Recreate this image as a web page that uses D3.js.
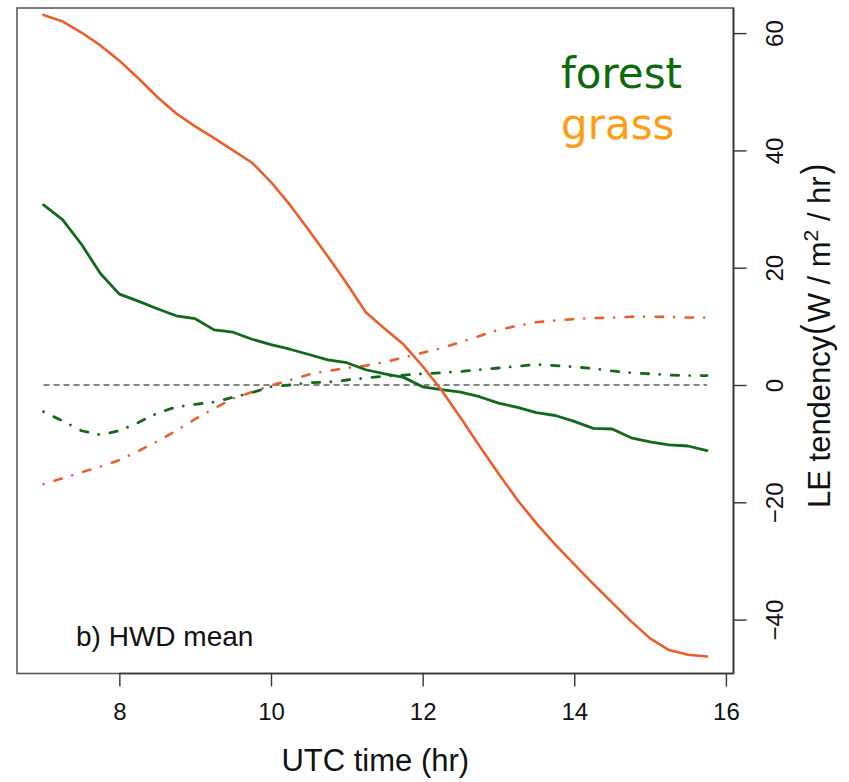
<!DOCTYPE html>
<html>
<head>
<meta charset="utf-8">
<script src="https://cdn.jsdelivr.net/npm/d3@7"></script>
<style>
  html, body { margin: 0; padding: 0; background: #fff; }
  svg { display: block; }
  text { font-family: "Liberation Sans", Arial, Helvetica, sans-serif; }
</style>
</head>
<body>
<svg id="chart" width="849" height="782"></svg>
<script>
// UTC hour of each sample (every 15 minutes)
const hours = [7, 7.25, 7.5, 7.75, 8, 8.25, 8.5, 8.75, 9, 9.25, 9.5, 9.75,
  10, 10.25, 10.5, 10.75, 11, 11.25, 11.5, 11.75, 12, 12.25, 12.5, 12.75,
  13, 13.25, 13.5, 13.75, 14, 14.25, 14.5, 14.75, 15, 15.25, 15.5, 15.75];

// grass, solid line
const grassSolid = [63.1, 62.0, 60.1, 57.9, 55.3, 52.3, 49.1, 46.3, 44.1, 42.1, 40.0, 37.9,
  34.6, 30.7, 26.4, 21.9, 17.3, 12.4, 9.6, 6.9, 3.2, -0.9, -5.6, -10.4,
  -15.1, -19.6, -23.6, -27.2, -30.6, -33.9, -37.1, -40.3, -43.2, -45.2, -46.0, -46.3];

// forest, solid line
const forestSolid = [30.7, 28.2, 24.0, 19.0, 15.5, 14.3, 13.0, 11.8, 11.3, 9.4, 9.0, 7.8,
  6.9, 6.1, 5.2, 4.3, 3.8, 2.6, 1.9, 1.3, -0.3, -0.8, -1.2, -2.0,
  -3.1, -3.8, -4.7, -5.2, -6.2, -7.4, -7.5, -9.0, -9.7, -10.2, -10.4, -11.2];

// grass, dash-dot line
const grassDashDot = [-16.9, -15.9, -14.9, -13.9, -12.8, -11.25, -9.6, -7.8, -5.8, -4.0, -2.3, -1.2,
  -0.1, 0.85, 1.8, 2.4, 2.9, 3.3, 3.9, 4.7, 5.5, 6.3, 7.3, 8.35,
  9.4, 10.1, 10.7, 11.0, 11.25, 11.4, 11.5, 11.65, 11.65, 11.6, 11.5, 11.5];

// forest, dash-dot line
const forestDashDot = [-4.55, -6.1, -7.8, -8.5, -7.8, -6.4, -4.8, -3.75, -3.3, -2.9, -2.1, -1.3,
  -0.3, 0.0, 0.4, 0.5, 0.85, 1.2, 1.5, 1.7, 1.9, 2.1, 2.3, 2.6,
  2.9, 3.2, 3.5, 3.3, 3.1, 2.8, 2.4, 2.1, 1.9, 1.7, 1.6, 1.6];

const xTicks = [8, 10, 12, 14, 16];
const yTicks = [-40, -20, 0, 20, 40, 60];
const legendLabels = ["forest", "grass"];

const GREEN = "#11691a";
const ORANGE_LINE = "#eb5e2b";
const ORANGE_TEXT = "#ff9c12";
const LEGEND_COLORS = ["#0a6a0a", ORANGE_TEXT];

const svg = d3.select("#chart");
const plot = { left: 17, right: 733.5, top: 8, bottom: 673.5 };

const x = d3.scaleLinear().domain([6.65, 16.1]).range([plot.left, plot.right]);
const y = d3.scaleLinear().domain([-49.19, 64.28]).range([plot.bottom, plot.top]);

// plot frame
svg.append("rect")
  .attr("x", plot.left).attr("y", plot.top)
  .attr("width", plot.right - plot.left).attr("height", plot.bottom - plot.top)
  .attr("fill", "none").attr("stroke", "#5a5a5a").attr("stroke-width", 1.6);

// zero reference line
svg.append("line")
  .attr("x1", x(hours[0])).attr("x2", x(hours[hours.length - 1]))
  .attr("y1", y(0)).attr("y2", y(0))
  .attr("stroke", "#5c5c5c").attr("stroke-width", 1.6)
  .attr("stroke-dasharray", "6,4");

const line = d3.line().x((d, i) => x(hours[i])).y(d => y(d));

const dashDot = "0.01,11.5,7.5,11";
const series = [
  { values: grassDashDot, color: ORANGE_LINE, dash: dashDot, width: 2.6 },
  { values: forestDashDot, color: GREEN, dash: dashDot, width: 2.8 },
  { values: forestSolid, color: GREEN, dash: null, width: 2.8 },
  { values: grassSolid, color: ORANGE_LINE, dash: null, width: 2.6 }
];

series.forEach(s => {
  svg.append("path")
    .datum(s.values)
    .attr("d", line)
    .attr("fill", "none")
    .attr("stroke", s.color)
    .attr("stroke-width", s.width)
    .attr("stroke-linecap", "round")
    .attr("stroke-linejoin", "round")
    .attr("stroke-dasharray", s.dash);
});

// bottom axis
const gx = svg.append("g")
  .attr("transform", `translate(0,${plot.bottom})`)
  .call(d3.axisBottom(x).tickValues(xTicks).tickSize(13).tickPadding(16.5).tickSizeOuter(0));
gx.select(".domain").remove();
gx.append("line")
  .attr("x1", x(xTicks[0])).attr("x2", plot.right)
  .attr("stroke", "#333").attr("stroke-width", 1.6);
gx.selectAll(".tick line").attr("stroke", "#333").attr("stroke-width", 1.4);
gx.selectAll(".tick text")
  .attr("fill", "#111").style("font-size", "24px")
  .style("font-family", '"Liberation Sans", Arial, sans-serif');

// right axis, labels written along the axis
const gy = svg.append("g")
  .attr("transform", `translate(${plot.right},0)`)
  .call(d3.axisRight(y).tickValues(yTicks).tickSize(13).tickSizeOuter(0)
    .tickFormat(d => d < 0 ? "\u2212" + Math.abs(d) : String(d)));
gy.select(".domain").remove();
gy.append("line")
  .attr("y1", plot.top).attr("y2", plot.bottom)
  .attr("stroke", "#333").attr("stroke-width", 1.6);
gy.selectAll(".tick line").attr("stroke", "#333").attr("stroke-width", 1.4);
gy.selectAll(".tick text")
  .attr("x", null).attr("dy", null)
  .attr("transform", "translate(49,0) rotate(-90)")
  .attr("text-anchor", "middle")
  .attr("fill", "#111").style("font-size", "24px")
  .style("font-family", '"Liberation Sans", Arial, sans-serif');

// x axis title
svg.append("text")
  .attr("x", (plot.left + plot.right) / 2).attr("y", 771)
  .attr("text-anchor", "middle")
  .attr("fill", "#111").style("font-size", "31px")
  .text("UTC time (hr)");

// y axis title, laid out piece by piece so the brackets can be stretched tall
const yTitleParts = [
  { t: "LE tendency", size: 31 },
  { t: "(", size: 31, paren: true, padBefore: 1, padAfter: 2 },
  { t: "W / m", size: 31 },
  { t: "2", size: 21, dy: -12 },
  { t: " / hr", size: 31 },
  { t: ")", size: 31, paren: true, padBefore: 2 }
];
const yTitle = svg.append("g")
  .attr("transform", "translate(830,508) rotate(-90)");
let cursor = 0;
yTitleParts.forEach(p => {
  cursor += p.padBefore || 0;
  const el = yTitle.append("text")
    .attr("fill", "#111")
    .style("font-size", p.size + "px")
    .style("white-space", "pre")
    .attr("xml:space", "preserve")
    .text(p.t);
  if (p.paren) {
    el.attr("transform", `translate(${cursor},-3) scale(1,1.2)`);
  } else {
    el.attr("x", cursor).attr("y", p.dy || 0);
  }
  cursor += el.node().getComputedTextLength() + (p.padAfter || 0);
});

// panel label
svg.append("text")
  .attr("x", 76).attr("y", 646)
  .attr("fill", "#111").style("font-size", "28px")
  .text("b) HWD mean");

// legend block
svg.selectAll(".legend")
  .data(legendLabels)
  .join("text")
  .attr("class", "legend")
  .attr("x", 561)
  .attr("y", (d, i) => 88 + i * 51)
  .attr("fill", (d, i) => LEGEND_COLORS[i])
  .style("font-family", '"DejaVu Sans", Verdana, sans-serif')
  .style("font-size", "42px")
  .text(d => d);
</script>
</body>
</html>
